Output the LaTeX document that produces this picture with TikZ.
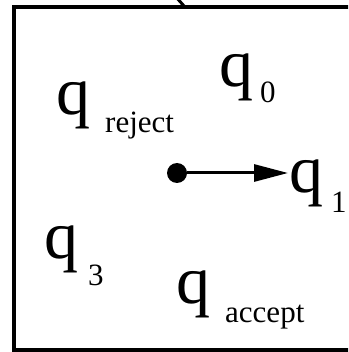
\documentclass[tikz,border=0pt]{standalone}
\usepackage{fontspec}
\setmainfont{Liberation Serif}
\usetikzlibrary{arrows.meta}
\tikzset{
  big/.style={inner sep=0pt, anchor=base west, font=\fontsize{68}{68}\selectfont},
  small/.style={inner sep=0pt, anchor=base west, font=\fontsize{31}{31}\selectfont},
  frame/.style={line width=4.5pt},
  arr/.style={line width=3pt, -{Triangle[length=34pt,width=17pt]}},
}
\begin{document}
\begin{tikzpicture}[x=1pt,y=-1pt]
\useasboundingbox (0,0) rectangle (348,352);
\begin{scope}
\clip (0,0) rectangle (348,352);
\draw[frame] (14,7) rectangle (400,350);
\draw[line width=3pt] (176,-3) -- (184,6);
\end{scope}
\node[big] (qr) at (56,115) {q};
\node[small] (qrs) at (105,133) {reject};
\node[big] (q0) at (219,87) {q};
\node[small] (q0s) at (260,103) {0};
\node[big] (q1) at (289,193) {q};
\node[small] (q1s) at (331,212) {1};
\node[big] (q3) at (44,258) {q};
\node[small] (q3s) at (88,285) {3};
\node[big] (qa) at (176,303) {q};
\node[small] (qas) at (225,322) {accept};
\node[circle, fill, inner sep=0pt, minimum size=20pt] (dot) at (177,173) {};
\coordinate (tip) at (288,173);
\draw[arr] (dot) -- (tip);
\end{tikzpicture}
\end{document}
